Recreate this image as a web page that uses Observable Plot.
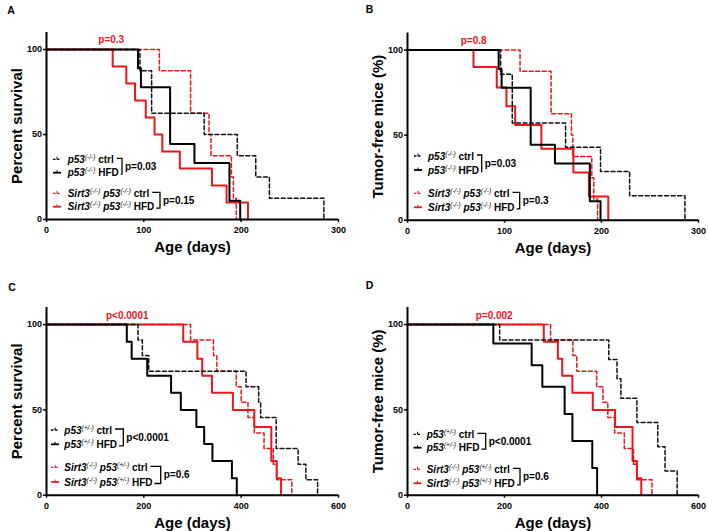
<!DOCTYPE html>
<html><head><meta charset="utf-8">
<script src="https://cdn.jsdelivr.net/npm/d3@7"></script>
<script src="https://cdn.jsdelivr.net/npm/@observablehq/plot@0.6"></script>
<style>
body{margin:0;background:#fff;}
#wrap{position:relative;width:708px;height:531px;overflow:hidden;background:#fff;}
.panel{position:absolute;}
.panel svg{display:block;overflow:visible;}
</style></head><body><div id="wrap"></div>
<script>
// ---------- data ----------
// Panel A : Percent survival, p53(-/-)
const A_ctrl_days  = [0, 96, 108, 162, 196, 215, 229, 285];
const A_ctrl_pct   = [100, 87.5, 62.5, 50, 37.5, 25, 12.5, 0];
const A_hfd_days   = [0, 94, 97, 127, 152, 188, 199];
const A_hfd_pct    = [100, 88.9, 77.8, 44.4, 33.3, 11.1, 0];
const A_sctrl_days = [0, 116, 148, 167, 169, 190, 192, 195];
const A_sctrl_pct  = [100, 87.5, 62.5, 50, 37.5, 25, 12.5, 0];
const A_shfd_days  = [0, 68, 82, 91, 102, 111, 119, 137, 170, 185, 207];
const A_shfd_pct   = [100, 90, 80, 70, 60, 50, 40, 30, 20, 10, 0];
// Panel B : Tumor-free mice, p53(-/-)
const B_ctrl_days  = [0, 96, 108, 163, 199, 229, 286];
const B_ctrl_pct   = [100, 85.7, 57.1, 42.9, 28.6, 14.3, 0];
const B_hfd_days   = [0, 94, 97, 127, 152, 188, 199];
const B_hfd_pct    = [100, 88.9, 77.8, 44.4, 33.3, 11.1, 0];
const B_sctrl_days = [0, 116, 148, 169, 170.5, 190, 192, 196];
const B_sctrl_pct  = [100, 87.5, 62.5, 50, 37.5, 25, 12.5, 0];
const B_shfd_days  = [0, 68, 92, 102, 111, 138, 171, 187, 207];
const B_shfd_pct   = [100, 90, 78, 67, 56, 42, 28, 14, 0];
// Panel C : Percent survival, p53(+/-)
const C_ctrl_days  = [0, 188, 197, 210, 410, 436, 440, 472, 517, 533, 557];
const C_ctrl_pct   = [100, 90.9, 81.8, 72.7, 63.6, 54.5, 45.5, 27.3, 18.2, 9.1, 0];
const C_hfd_days   = [0, 165, 175, 207, 256, 276, 308, 324, 341, 381, 391];
const C_hfd_pct    = [100, 90, 80, 70, 60, 50, 40, 30, 20, 10, 0];
const C_sctrl_days = [0, 296, 343, 350, 390, 400, 414, 427, 447, 466, 473, 504];
const C_sctrl_pct  = [100, 90.9, 81.8, 72.7, 63.6, 54.5, 45.5, 36.4, 27.3, 18.2, 9.1, 0];
const C_shfd_days  = [0, 281, 310, 320, 340, 383, 427, 462, 473, 482];
const C_shfd_pct   = [100, 90, 80, 70, 60, 50, 40, 20, 10, 0];
// Panel D : Tumor-free mice, p53(+/-)
const D_ctrl_days  = [0, 190, 415, 432, 440, 473, 516, 531, 556];
const D_ctrl_pct   = [100, 90.9, 79.5, 68.2, 56.8, 42.6, 28.4, 14.2, 0];
const D_hfd_days   = [0, 177, 256, 278, 324, 340, 381, 391];
const D_hfd_pct    = [100, 88.9, 76.2, 63.5, 47.6, 31.7, 15.9, 0];
const D_sctrl_days = [0, 295, 341, 349, 390, 403, 413, 427, 447, 466, 473, 504];
const D_sctrl_pct  = [100, 90.9, 81.8, 72.7, 63.6, 54.5, 45.5, 36.4, 27.3, 18.2, 9.1, 0];
const D_shfd_days  = [0, 281, 310, 319, 340, 382, 428, 464, 473, 482];
const D_shfd_pct   = [100, 90, 80, 70, 60, 50, 40, 20, 10, 0];

const xTicks300 = [0, 100, 200, 300];
const xTicks600 = [0, 200, 400, 600];
const yTicks = [0, 50, 100];
const xTitle = "Age (days)";
const yTitleSurv = "Percent survival";
const yTitleTumor = "Tumor-free mice (%)";
const pTop = ["p=0.3", "p=0.8", "p<0.0001", "p=0.002"];
const pBlack = [["p=0.03", "p=0.15"], ["p=0.03", "p=0.3"], ["p<0.0001", "p=0.6"], ["p<0.0001", "p=0.6"]];
const supMinus = "(-/-)";
const supHet = "(+/-)";

// ---------- drawing ----------
const FONT = '"Liberation Sans", Arial, Helvetica, sans-serif';
const RED = "#e9161d";
const zip = (t, s) => t.map((d, i) => ({t: d, s: s[i]}));

const cfgs = [
  {id: "A", left: 0, top: 0, ml: 46, mr: 16, mt: 32, mb: 46, xmax: 300, xt: xTicks300, ytitle: yTitleSurv,
   series: [zip(A_ctrl_days, A_ctrl_pct), zip(A_hfd_days, A_hfd_pct), zip(A_sctrl_days, A_sctrl_pct), zip(A_shfd_days, A_shfd_pct)],
   sup: supMinus, letter: [7.3, 14], sampleX: 53, textX: 67.7, rows: [159.3, 172.7, 193.3, 206.7], br: [122, 160], pPos: [98.3, 39]},
  {id: "B", left: 354, top: 0, ml: 53, mr: 10, mt: 32.5, mb: 45.3, xmax: 300, xt: xTicks300, ytitle: yTitleTumor,
   series: [zip(B_ctrl_days, B_ctrl_pct), zip(B_hfd_days, B_hfd_pct), zip(B_sctrl_days, B_sctrl_pct), zip(B_shfd_days, B_shfd_pct)],
   sup: supMinus, letter: [11.7, 13.3], sampleX: 60, textX: 74, rows: [156, 170, 193.3, 207.3], br: [127.7, 165.7], pPos: [106.7, 40]},
  {id: "C", left: 0, top: 265, ml: 46, mr: 16, mt: 42, mb: 35.3, xmax: 600, xt: xTicks600, ytitle: yTitleSurv,
   series: [zip(C_ctrl_days, C_ctrl_pct), zip(C_hfd_days, C_hfd_pct), zip(C_sctrl_days, C_sctrl_pct), zip(C_shfd_days, C_shfd_pct)],
   sup: supHet, letter: [8.3, 25.7], sampleX: 51, textX: 64.3, rows: [165, 179.3, 202.3, 217], br: [123.3, 160.7], pPos: [106, 50.7]},
  {id: "D", left: 354, top: 265, ml: 53, mr: 10, mt: 42, mb: 35.3, xmax: 600, xt: xTicks600, ytitle: yTitleTumor,
   series: [zip(D_ctrl_days, D_ctrl_pct), zip(D_hfd_days, D_hfd_pct), zip(D_sctrl_days, D_sctrl_pct), zip(D_shfd_days, D_shfd_pct)],
   sup: supHet, letter: [11.7, 24], sampleX: 59.5, textX: 72.7, rows: [169.3, 182.7, 204.3, 218.3], br: [131.7, 166], pPos: [121.7, 50.7]}
];

const wrap = document.getElementById("wrap");

cfgs.forEach((c, pi) => {
  const [ctrl, hfd, sctrl, shfd] = c.series;
  const svg = Plot.plot({
    width: 354, height: 265,
    marginLeft: c.ml, marginRight: c.mr, marginTop: c.mt, marginBottom: c.mb,
    x: {domain: [0, c.xmax]},
    y: {domain: [0, 110]},
    style: {fontFamily: FONT, fontWeight: "bold", color: "#000", background: "transparent", overflow: "visible"},
    marks: [
      Plot.axisX({ticks: c.xt, tickSize: 3, tickPadding: 4, fontSize: 9, label: null, strokeWidth: 1.5}),
      Plot.axisY({ticks: yTicks, tickSize: 3, tickPadding: 1.5, fontSize: 9, label: null, strokeWidth: 1.5}),
      Plot.line(shfd, {x: "t", y: "s", curve: "step-after", stroke: RED, strokeWidth: 2}),
      Plot.line(sctrl, {x: "t", y: "s", curve: "step-after", stroke: RED, strokeWidth: 1.5, strokeDasharray: "4,2.5"}),
      Plot.line(ctrl, {x: "t", y: "s", curve: "step-after", stroke: "#111", strokeWidth: 1.5, strokeDasharray: "4,2.5"}),
      Plot.line(hfd, {x: "t", y: "s", curve: "step-after", stroke: "#000", strokeWidth: 2}),
      Plot.ruleX([0], {strokeWidth: 2}),
      Plot.ruleY([0], {strokeWidth: 2}),
      Plot.text([xTitle], {text: d => d, frameAnchor: "bottom", lineAnchor: "middle", textAnchor: "middle", dy: 28, fontSize: 15}),
      Plot.text([c.ytitle], {text: d => d, frameAnchor: "left", textAnchor: "middle", lineAnchor: "middle", rotate: -90, dx: -29, fontSize: 15})
    ]
  });
  const div = document.createElement("div");
  div.className = "panel";
  div.style.left = c.left + "px";
  div.style.top = c.top + "px";
  div.appendChild(svg);
  wrap.appendChild(div);

  const g = d3.select(svg).append("g")
    .attr("font-family", FONT).attr("font-weight", "bold").attr("font-size", 10)
    .attr("text-anchor", "start")
    .style("white-space", "pre");

  g.append("text").attr("x", c.letter[0]).attr("y", c.letter[1]).attr("font-size", 10.5).text(c.id);
  g.append("text").attr("x", c.pPos[0]).attr("y", c.pPos[1] + 3.5).attr("fill", RED).text(pTop[pi]);

  const rows = [
    {parts: [["p53", "i"], [c.sup, "s"], [" ctrl", ""]], color: "#000", dash: true},
    {parts: [["p53", "i"], [c.sup, "s"], [" HFD", ""]], color: "#000", dash: false},
    {parts: [["Sirt3", "i"], [supMinus, "s"], [" ", ""], ["p53", "i"], [c.sup, "s"], [" ctrl", ""]], color: RED, dash: true},
    {parts: [["Sirt3", "i"], [supMinus, "s"], [" ", ""], ["p53", "i"], [c.sup, "s"], [" HFD", ""]], color: RED, dash: false}
  ];
  const ends = [];
  rows.forEach((r, ri) => {
    const y = c.rows[ri];
    g.append("line").attr("x1", c.sampleX).attr("x2", c.sampleX + 8).attr("y1", y).attr("y2", y)
      .attr("stroke", r.color).attr("stroke-width", r.dash ? 1.3 : 1.8)
      .attr("stroke-dasharray", r.dash ? "2.5,1.5" : null);
    g.append("line").attr("x1", c.sampleX + 4).attr("x2", c.sampleX + 4).attr("y1", y - 2.5).attr("y2", y)
      .attr("stroke", r.color).attr("stroke-width", 1);
    const t = g.append("text").attr("x", c.textX).attr("y", y + 3.5).attr("fill", "#000");
    let shifted = false;
    r.parts.forEach(([s, k]) => {
      const ts = t.append("tspan").text(s);
      if (k === "i") ts.attr("font-style", "italic");
      if (k === "s") {
        ts.attr("font-size", 6.5).attr("font-style", "italic").attr("font-weight", "normal").attr("dy", -4);
        shifted = true;
      } else if (shifted) {
        ts.attr("dy", 4);
        shifted = false;
      }
    });
    ends.push(c.textX + t.node().getComputedTextLength());
  });
  [[0, 1], [2, 3]].forEach(([a, b], bi) => {
    const bx = c.br[bi];
    const y1 = c.rows[a] - 1, y2 = c.rows[b] + 1.5;
    g.append("path")
      .attr("d", `M${ends[a] + 3},${y1}H${bx}V${y2}H${ends[b] + 2}`)
      .attr("fill", "none").attr("stroke", "#000").attr("stroke-width", 1.3);
    g.append("text").attr("x", bx + 3).attr("y", (y1 + y2) / 2 + 3.5).text(pBlack[pi][bi]);
  });
});
</script></body></html>
